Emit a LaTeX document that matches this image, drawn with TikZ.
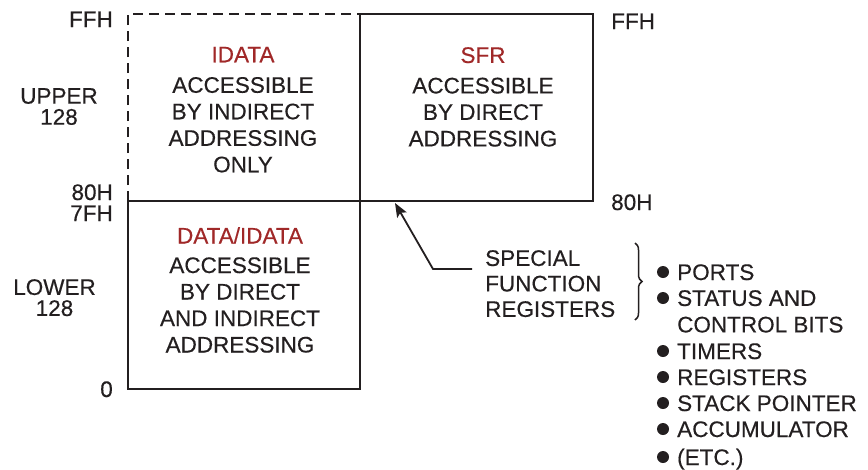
\documentclass[tikz,border=0pt]{standalone}
\usepackage{fontspec}
\setmainfont[FakeBold=0.4]{Liberation Sans}
\usetikzlibrary{arrows.meta,decorations.pathreplacing}
\definecolor{ink}{RGB}{35,31,32}
\definecolor{redt}{RGB}{160,40,40}
\begin{document}
\begin{tikzpicture}[x=1pt,y=-1pt,
  txt/.style={font=\fontsize{22.5}{26.5}\selectfont, text=ink, inner sep=0pt},
  ctxt/.style={txt, align=center, anchor=north},
  ltxt/.style={txt, align=left},
  side/.style={font=\fontsize{22.5}{21}\selectfont, text=ink, inner sep=0pt, align=center, anchor=north},
  item/.style={txt, anchor=west, text height=16pt, text depth=0pt},
  dot/.style={circle, fill=ink, inner sep=0pt, minimum size=12pt},
  box/.style={draw=ink, line width=2pt},
  conn/.style={draw=ink, line width=1.8pt}]
\useasboundingbox (0,0) rectangle (868,469);
% boxes
\draw[box, dash pattern=on 10pt off 6pt] (128,201) -- (128,14) -- (360,14);
\draw[box] (360,14) rectangle (593,201);
\draw[box] (128,201) rectangle (360,389);
% box texts
\node[ctxt] (idata) at (243,46.6) {\textcolor{redt}{IDATA}\\[4pt]ACCESSIBLE\\BY INDIRECT\\ADDRESSING\\ONLY};
\node[ctxt] (sfr) at (483,47) {\textcolor{redt}{SFR}\\[4pt]ACCESSIBLE\\BY DIRECT\\ADDRESSING};
\node[ctxt] (data) at (240,227) {\textcolor{redt}{DATA/IDATA}\\[3pt]ACCESSIBLE\\BY DIRECT\\AND INDIRECT\\ADDRESSING};
% address labels
\node[txt, anchor=east, text height=16pt, text depth=0pt] (ffhl) at (113,19) {FFH};
\node[txt, anchor=east, text height=16pt, text depth=0pt] (h80l) at (113,192) {80H};
\node[txt, anchor=east, text height=16pt, text depth=0pt] (h7fl) at (113,213) {7FH};
\node[txt, anchor=east, text height=16pt, text depth=0pt] (zero) at (113,389) {0};
\node[txt, anchor=west, text height=16pt, text depth=0pt] (ffhr) at (611,21) {FFH};
\node[txt, anchor=west, text height=16pt, text depth=0pt] (h80r) at (611,202) {80H};
\node[side] (upper) at (59,88) {UPPER\\128};
\node[side] (lower) at (54.5,279) {LOWER\\128};
% special function registers
\node[ltxt, anchor=north west, font=\fontsize{22.5}{25.5}\selectfont] (sfrl) at (485,250) {SPECIAL\\FUNCTION\\REGISTERS};
\coordinate (tip) at (395,203);
\coordinate (bend) at (433,269);
\coordinate (start) at (472,269);
\draw[conn, -{Stealth[length=14pt,width=11pt,inset=3pt]}] (start) -- (bend) -- (tip);
\draw[draw=ink, line width=1.5pt, decorate, decoration={brace, amplitude=7pt}] (635,243) -- (635,320);
% bullet list
\node[dot] (d1) at (663,272) {};
\node[item] (i1) at (677,272) {PORTS};
\node[dot] (d2) at (663,298) {};
\node[ltxt, anchor=north west] (i2) at (677,290) {STATUS AND\\CONTROL BITS};
\node[dot] (d3) at (663,351) {};
\node[item] (i3) at (677,351) {TIMERS};
\node[dot] (d4) at (663,377) {};
\node[item] (i4) at (677,377) {REGISTERS};
\node[dot] (d5) at (663,403) {};
\node[item] (i5) at (677,403) {STACK POINTER};
\node[dot] (d6) at (663,429) {};
\node[item] (i6) at (677,429) {ACCUMULATOR};
\node[dot] (d7) at (663,457) {};
\node[item] (i7) at (677,457) {(ETC.)};
\end{tikzpicture}
\end{document}
